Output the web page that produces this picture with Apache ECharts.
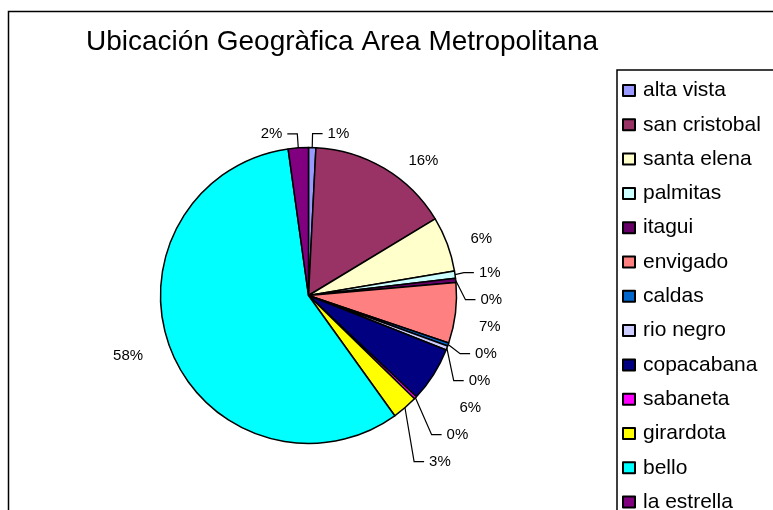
<!DOCTYPE html>
<html><head><meta charset="utf-8">
<script src="https://cdn.jsdelivr.net/npm/echarts@6/dist/echarts.min.js"></script>
<style>html,body{margin:0;padding:0;background:#fff}#c{width:773px;height:510px}</style>
</head><body><div id="c"></div>
<script>
const categories = ['alta vista','san cristobal','santa elena','palmitas','itagui','envigado','caldas','rio negro','copacabana','sabaneta','girardota','bello','la estrella'];
const values = [0.8, 15.55, 6.0, 0.8, 0.45, 6.6, 0.35, 0.45, 6.0, 0.3, 2.8, 57.7, 2.2];
const colors = ['#9999FF','#993366','#FFFFCC','#CCFFFF','#660066','#FF8080','#0066CC','#CCCCFF','#000080','#FF00FF','#FFFF00','#00FFFF','#800080'];
const titleText = 'Ubicación Geogràfica Area Metropolitana';

const chart = echarts.init(document.getElementById('c'));
const total = values.reduce((a,b)=>a+b,0);
chart.setOption({
  animation: false,
  color: colors,
  title: { text: titleText, left: 86, top: 28, padding: 0,
    textStyle: { fontFamily: 'Liberation Sans', fontSize: 28, fontWeight: 'normal', color: '#000', lineHeight: 28 } },
  graphic: [{ type: 'rect', shape: { x: 8.5, y: 11.5, width: 900, height: 700 },
    style: { fill: 'none', stroke: '#000', lineWidth: 1.5 }, silent: true }],
  legend: {
    orient: 'vertical', left: 617, top: 70, height: 600,
    padding: [10, 200, 0, 5],
    borderColor: '#000', borderWidth: 1.5,
    itemWidth: 12, itemHeight: 11, itemGap: 13.3,
    icon: 'rect',
    textStyle: { fontFamily: 'Liberation Sans', fontSize: 21, color: '#000', lineHeight: 20, padding: [0,0,0,3] },
    data: categories
  },
  series: [{
    type: 'pie',
    center: [308.5, 295.5],
    radius: 148,
    startAngle: 90,
    clockwise: true,
    avoidLabelOverlap: true,
    itemStyle: { borderColor: '#000', borderWidth: 1.5 },
    label: { show: true, position: 'outside', fontFamily: 'Liberation Sans', fontSize: 15, color: '#000', lineHeight: 25,
      formatter: p => Math.round(p.value / total * 100) + '%' },
    labelLine: { show: true, length: 14, length2: 10, lineStyle: { color: '#000', width: 1.2 } },
    data: categories.map((n, i) => ({ name: n, value: values[i],
      labelLine: { show: values[i] / total < 0.035 } }))
  }]
});
</script></body></html>
